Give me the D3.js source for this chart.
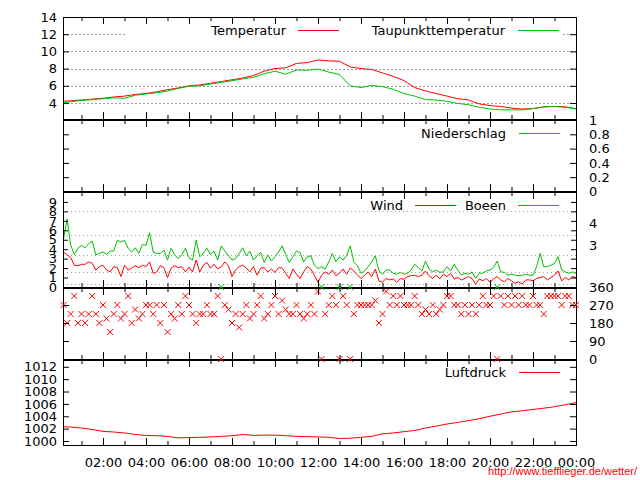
<!DOCTYPE html>
<html><head><meta charset="utf-8">
<script src="https://cdn.jsdelivr.net/npm/d3@7"></script>
<style>
body{margin:0;background:#fff}
svg{display:block}
text{font-family:"DejaVu Sans",sans-serif;font-size:13px}
</style>
</head><body>
<svg id="c" width="640" height="480"></svg>
<script>
// ---- data ----
// half-hourly series (hours since midnight)
const slowTimes = [0.15,0.5,1,1.5,2,2.5,3,3.5,4,4.5,5,5.5,6,6.5,7,7.5,8,8.5,9,9.5,10,10.5,11,11.5,12,12.5,13,13.5,14,14.5,15,15.5,16,16.5,17,17.5,18,18.5,19,19.5,20,20.5,21,21.5,22,22.5,23,23.5,24];
const temperatur = [4.2,4.25,4.35,4.45,4.55,4.7,4.8,5.0,5.1,5.3,5.55,5.75,6.0,6.1,6.3,6.5,6.7,6.9,7.2,7.7,8.0,8.1,8.6,8.7,9.0,8.9,8.85,8.2,8.0,7.9,7.5,7.1,6.6,5.8,5.4,5.1,4.8,4.5,4.35,3.9,3.7,3.6,3.4,3.3,3.35,3.55,3.6,3.55,3.35];
const taupunkt = [4.0,4.15,4.3,4.4,4.5,4.6,4.55,4.9,5.05,5.2,5.4,5.7,5.95,6.0,6.2,6.4,6.6,6.8,7.0,7.4,7.7,7.35,7.85,7.8,7.95,7.6,7.3,6.0,5.8,6.05,5.9,5.6,5.1,4.8,4.4,4.35,4.2,3.95,3.8,3.5,3.3,3.2,3.2,3.2,3.35,3.55,3.6,3.5,3.3];
const niederschlag = [0,0,0,0,0,0,0,0,0,0,0,0,0,0,0,0,0,0,0,0,0,0,0,0,0,0,0,0,0,0,0,0,0,0,0,0,0,0,0,0,0,0,0,0,0,0,0,0,0];
const luftdruck = [1002.3,1002.25,1002.1,1001.85,1001.55,1001.45,1001.3,1001.05,1000.9,1000.85,1000.75,1000.5,1000.55,1000.6,1000.65,1000.75,1000.85,1001.05,1000.9,1000.95,1000.95,1000.85,1000.75,1000.7,1000.65,1000.6,1000.4,1000.45,1000.6,1000.75,1001.15,1001.3,1001.5,1001.7,1002.1,1002.4,1002.75,1003.0,1003.3,1003.6,1004.0,1004.35,1004.7,1004.9,1005.1,1005.3,1005.55,1005.85,1006.2];
// 10-minute series
const fastTimes = d3.range(1,145).map(k => k/6);
const wind = [3.7,3.4,3.1,2.3,2.25,2.4,2.4,2.65,2.5,1.8,
 2.15,2.3,1.8,1.6,2.15,2.05,1.1,2.3,1.8,2.0,
 2.25,2.05,2.3,2.15,2.65,1.45,1.6,2.25,2.05,1.0,
 2.0,2.25,2.05,2.15,1.6,2.1,1.6,2.85,1.6,2.3,
 2.6,2.0,2.4,1.9,2.15,2.65,2.25,1.1,1.8,2.15,
 2.3,2.0,1.6,2.15,1.25,2.0,2.05,1.6,1.9,1.55,
 2.05,2.0,1.45,0.9,1.9,1.35,0.9,1.6,2.15,1.9,
 1.25,0.5,1.25,1.6,1.35,1.8,1.2,1.45,1.9,1.35,
 2.0,1.7,1.25,0.9,1.25,1.6,1.1,1.9,0.65,0.5,
 0.9,0.75,0.85,0.5,0.9,0.8,1.1,1.2,1.25,1.1,
 1.25,1.7,1.2,0.9,1.25,0.85,1.35,1.1,1.45,0.85,
 1.0,0.75,0.9,1.1,0.9,0.3,0.85,0.65,0.9,0.5,
 0.85,1.1,0.75,0.55,0.9,0.65,0.4,0.55,0.3,0.75,
 0.75,0.65,0.9,1.0,1.1,0.75,1.0,1.25,1.7,0.65,
 1.0,0.75,1.1,1.0];
const boeen = [5.1,7.2,4.4,3.45,4.1,4.4,4.15,4.6,4.85,3.4,
 3.55,3.7,3.45,3.8,3.8,4.95,4.75,4.95,4.1,3.7,
 4.15,3.55,4.5,4.4,5.75,3.7,3.55,3.55,3.9,2.85,
 4.1,3.4,3.0,3.4,4.1,3.1,2.85,4.95,3.2,3.55,
 4.1,3.45,3.8,2.85,4.35,3.8,3.3,2.85,3.0,3.55,
 4.15,3.3,3.8,2.85,3.3,3.65,2.6,3.4,2.75,3.2,
 3.7,4.35,3.4,2.6,3.2,3.8,3.65,2.65,3.2,3.3,
 2.3,1.95,2.15,1.9,2.65,3.55,2.65,3.2,2.85,3.35,
 4.35,2.65,2.25,1.45,1.7,2.15,2.65,3.3,1.7,1.35,
 1.8,1.8,1.45,1.35,1.55,1.35,1.45,1.8,2.4,2.05,
 1.7,2.75,1.9,1.6,1.8,1.55,1.6,2.15,1.7,2.4,
 1.8,1.25,1.45,1.35,1.6,0.9,1.45,1.45,1.7,1.8,
 2.05,2.75,1.6,1.55,1.25,1.35,1.25,1.2,1.25,1.35,
 1.25,1.25,2.15,3.55,2.15,2.15,2.3,2.5,3.2,1.8,
 1.6,1.45,1.6,1.45];
const windRichtung = [270,180,225,315,180,225,180,225,315,225,
 180,270,202.5,135,225,270,202.5,225,315,180,
 247.5,202.5,225,270,270,225,270,180,270,135,
 225,202.5,270,225,315,270,225,180,225,225,
 270,225,225,315,0,270,247.5,180,225,157.5,
 225,270,202.5,225,270,315,202.5,225,270,315,
 225,292.5,247.5,225,225,270,225,202.5,225,270,
 225,337.5,0,225,270,315,270,0,315,270,
 0,225,270,270,270,270,270,292.5,180,225,
 337.5,270,315,270,315,270,270,270,315,270,
 225,247.5,225,270,225,247.5,270,315,315,270,
 270,225,270,225,270,225,270,315,270,270,
 315,0,315,270,315,270,315,270,315,270,
 270,315,270,270,225,315,315,315,315,270,
 315,315,270,270];
const boeenRichtungTimes = [7.5,12.1667,13.0,13.5,20.3333];
const boeenRichtung = [360,360,360,360,360];
// axis ticks / labels
const tempTicks = [4,6,8,10,12,14];
const tempGrid = [4,6,8,10,12];
const rainTicks = [0,0.2,0.4,0.6,0.8,1];
const windTicks = [0,1,2,3,4,5,6,7,8,9];
const beaufortGrid = [0.3,1.6,3.4,5.5,8.0];
const beaufortLabelPos = [4.45,6.75];
const beaufortLabels = ["3","4"];
const dirTicks = [0,90,180,270,360];
const pressTicks = [1000,1002,1004,1006,1008,1010,1012];
const hourLabels = [2,4,6,8,10,12,14,16,18,20,22,24];

// ---- layout ----
const svg = d3.select('#c');
const X0 = 63, X1 = 576;
const x = d3.scaleLinear().domain([0.14,24]).range([X0,X1]);
const P = [
  {top:17,bottom:119},
  {top:120,bottom:191},
  {top:192,bottom:287},
  {top:288,bottom:359},
  {top:360,bottom:445}
];
const yT = d3.scaleLinear().domain([2.14,14]).range([119,17]);
const yN = d3.scaleLinear().domain([0,1]).range([191.5,120]);
const yW = d3.scaleLinear().domain([0,10.05]).range([287,192]);
const yD = d3.scaleLinear().domain([0,360]).range([359,287]);
const yP = d3.scaleLinear().domain([999.35,1013.1]).range([445,360]);

const RED = '#ff0000', GREEN = '#00c000', GRID = '#a0a0a0';

function hline(v, ys, dash, x0, x1){
  svg.append('line').attr('x1',x0||X0).attr('x2',x1||X1)
    .attr('y1',Math.round(ys(v))+0.5).attr('y2',Math.round(ys(v))+0.5)
    .attr('stroke',GRID).attr('stroke-width',1).attr('stroke-dasharray',dash);
}
tempGrid.forEach(v => hline(v, yT, '2,2'));
beaufortGrid.forEach(v => hline(v, yW, '1,3'));

// opaque key box of temperature panel
svg.append('rect').attr('x',126).attr('y',24).attr('width',437).attr('height',14).attr('fill','#fff');

function series(ts, vs, ys, color){
  const line = d3.line().x((d,i)=>x(ts[i])).y(d=>ys(d));
  svg.append('path').datum(vs).attr('d',line).attr('fill','none')
    .attr('stroke',color).attr('stroke-width',1);
}
series(slowTimes, temperatur, yT, RED);
series(slowTimes, taupunkt, yT, GREEN);
series(slowTimes, niederschlag, yN, GREEN);
series(fastTimes, wind, yW, RED);
series(fastTimes, boeen, yW, GREEN);
series(slowTimes, luftdruck, yP, RED);

// frames
P.forEach(p => {
  svg.append('rect').attr('x',X0+0.5).attr('y',p.top+0.5)
    .attr('width',X1-X0).attr('height',p.bottom-p.top)
    .attr('fill','none').attr('stroke','#000').attr('stroke-width',1)
    .attr('shape-rendering','crispEdges');
});

// crosses for directions
const cross = 'M-3,-3L3,3M-3,3L3,-3';
svg.append('g').selectAll('path').data(windRichtung).join('path')
  .attr('transform',(d,i)=>`translate(${x(fastTimes[i]).toFixed(1)},${yD(d).toFixed(1)})`)
  .attr('d',cross).attr('stroke',RED).attr('fill','none').attr('stroke-width',1);
svg.append('g').selectAll('path').data(boeenRichtung).join('path')
  .attr('transform',(d,i)=>`translate(${x(boeenRichtungTimes[i]).toFixed(1)},${yD(d).toFixed(1)})`)
  .attr('d',cross).attr('stroke',GREEN).attr('fill','none').attr('stroke-width',1);

// axes helpers
function styleAxis(g){
  g.select('.domain').remove();
  g.selectAll('text').attr('font-family','"DejaVu Sans",sans-serif').attr('font-size',13).attr('fill','#000');
  g.selectAll('line').attr('stroke','#000');
  return g;
}
function leftLabels(ys, vals, fmt){
  svg.append('g').attr('transform',`translate(${X0},0)`)
    .call(d3.axisLeft(ys).tickValues(vals).tickSize(0).tickPadding(6).tickFormat(fmt||d3.format('')))
    .call(styleAxis);
}
function rightLabels(ys, vals, fmt){
  svg.append('g').attr('transform',`translate(${X1},0)`)
    .call(d3.axisRight(ys).tickValues(vals).tickSize(0).tickPadding(13).tickFormat(fmt||d3.format('')))
    .call(styleAxis);
}
function yTicks(ys, vals, len){
  svg.append('g').attr('transform',`translate(${X0},0)`)
    .call(d3.axisRight(ys).tickValues(vals).tickSize(len).tickFormat('')).call(styleAxis);
  svg.append('g').attr('transform',`translate(${X1},0)`)
    .call(d3.axisLeft(ys).tickValues(vals).tickSize(len).tickFormat('')).call(styleAxis);
}
const majorHours = d3.range(2,25,2), minorHours = d3.range(1,24,2);
P.forEach(p => {
  [[majorHours,7],[minorHours,4]].forEach(([hv,len]) => {
    svg.append('g').attr('transform',`translate(0,${p.top})`)
      .call(d3.axisBottom(x).tickValues(hv).tickSize(len).tickFormat('')).call(styleAxis);
    svg.append('g').attr('transform',`translate(0,${p.bottom})`)
      .call(d3.axisTop(x).tickValues(hv).tickSize(len).tickFormat('')).call(styleAxis);
  });
});

// temperature
leftLabels(yT, tempTicks);
yTicks(yT, tempGrid, 6);
// rain
rightLabels(yN, rainTicks, d3.format('~g'));
yTicks(yN, [0.2,0.4,0.6,0.8], 6);
// wind
leftLabels(yW, windTicks);
yTicks(yW, [1,2,3,4,5,6,7,8,9], 5);
svg.append('g').attr('transform',`translate(${X1},0)`)
  .call(d3.axisRight(yW).tickValues(beaufortLabelPos).tickSize(0).tickPadding(13).tickFormat((d,i)=>beaufortLabels[i]))
  .call(styleAxis);
// direction
rightLabels(yD, dirTicks);
yTicks(yD, [90,180,270], 6);
// pressure
leftLabels(yP, pressTicks);
yTicks(yP, pressTicks, 6);
// time labels
svg.append('g').attr('transform',`translate(0,${P[4].bottom})`)
  .call(d3.axisBottom(x).tickValues(hourLabels).tickSize(0).tickPadding(13)
    .tickFormat(h => String(h % 24).padStart(2,'0') + ':00'))
  .call(styleAxis);

// legends
function legend(label, textEnd, lx0, lx1, y, color){
  svg.append('text').attr('x',textEnd).attr('y',y).attr('dy','0.35em')
    .attr('text-anchor','end').text(label);
  svg.append('line').attr('x1',lx0).attr('x2',lx1).attr('y1',y+0.5).attr('y2',y+0.5)
    .attr('stroke',color).attr('stroke-width',1);
}
legend('Temperatur', 286, 298, 339, 30, RED);
legend('Taupunkttemperatur', 505, 518, 559, 30, GREEN);
legend('Niederschlag', 506, 519, 560, 133, GREEN);
legend('Wind', 403, 415, 456, 205, RED);
legend('Boeen', 506, 518, 559, 205, GREEN);
legend('Luftdruck', 506, 519, 560, 372, RED);

// watermark
svg.append('text').attr('x',637).attr('y',475).attr('text-anchor','end')
  .attr('font-family','"Liberation Sans",Arial,sans-serif').attr('font-size',11)
  .attr('fill',RED).style('font-family','"Liberation Sans",Arial,sans-serif').style('font-size','11px')
  .text('http://www.tiefflieger.de/wetter/');
</script>
</body></html>
